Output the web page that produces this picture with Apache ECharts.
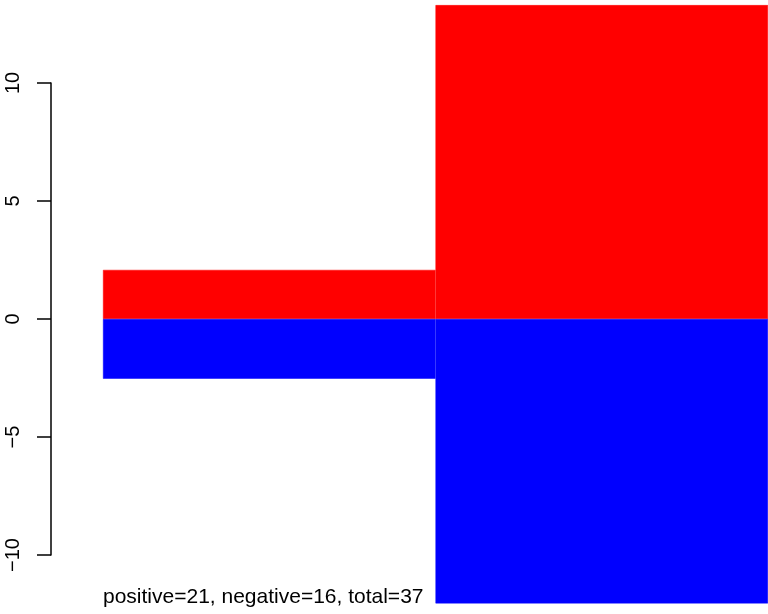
<!DOCTYPE html>
<html>
<head>
<meta charset="utf-8">
<script src="https://cdn.jsdelivr.net/npm/echarts@6/dist/echarts.min.js"></script>
<style>
  html, body { margin: 0; padding: 0; background: #fff; }
  #chart { width: 768px; height: 614px; }
</style>
</head>
<body>
<div id="chart"></div>
<script>
const categories = ['A', 'B']
const positiveValues = [2.08, 13.3]
const negativeValues = [-2.53, -12.05]
const yTicks = { min: -10, max: 10, step: 5 }
const caption = 'positive=21, negative=16, total=37'

const font = '"Liberation Sans", Arial, sans-serif'
const chart = echarts.init(document.getElementById('chart'), null, { renderer: 'canvas' })

chart.setOption({
  animation: false,
  backgroundColor: '#ffffff',
  title: {
    text: caption,
    left: 98,
    top: 582,
    textStyle: {
      fontFamily: font,
      fontSize: 21,
      fontWeight: 'normal',
      color: '#000'
    }
  },
  grid: {
    left: 103,
    right: 0,
    top: 83,
    bottom: 59
  },
  xAxis: {
    type: 'category',
    data: categories,
    show: false
  },
  yAxis: {
    type: 'value',
    min: yTicks.min,
    max: yTicks.max,
    interval: yTicks.step,
    offset: 52,
    axisLine: { show: true, lineStyle: { color: '#000', width: 1.5 } },
    axisTick: { show: true, length: 14, lineStyle: { color: '#000', width: 1.5 } },
    splitLine: { show: false },
    axisLabel: {
      rotate: 90,
      margin: 28,
      color: '#000',
      fontFamily: font,
      fontSize: 20,
      formatter: (v) => String(v).replace('-', '\u2212')
    }
  },
  series: [
    {
      name: 'positive',
      type: 'bar',
      stack: 'total',
      data: positiveValues,
      barWidth: '100%',
      clip: false,
      itemStyle: { color: '#ff0000', borderColor: '#ff0000', borderWidth: 0.5 }
    },
    {
      name: 'negative',
      type: 'bar',
      stack: 'total',
      data: negativeValues,
      barWidth: '100%',
      clip: false,
      itemStyle: { color: '#0000ff', borderColor: '#0000ff', borderWidth: 0.5 }
    }
  ]
})
</script>
</body>
</html>
